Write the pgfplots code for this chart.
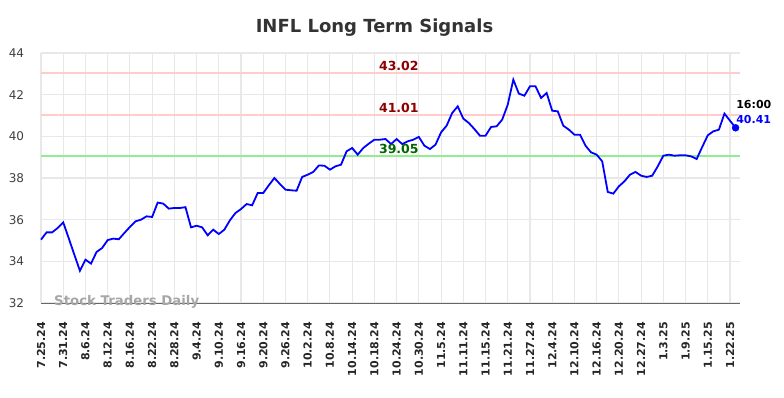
\documentclass[border=0pt]{standalone}
\usepackage{fontspec}
\setmainfont{DejaVu Sans}
\usepackage{pgfplots}
\pgfplotsset{compat=1.18}
\definecolor{lvlred}{HTML}{FFCCCC}
\definecolor{lvlgreen}{HTML}{90EE90}
\definecolor{lblred}{HTML}{8B0000}
\definecolor{lblgreen}{HTML}{006400}
\definecolor{gridc}{HTML}{E8E8E8}
\definecolor{titlec}{HTML}{333333}
\begin{document}
\begin{tikzpicture}
\path[use as bounding box] (0,0) rectangle (784pt,398pt);
\begin{axis}[
  at={(41pt,95pt)}, anchor=south west,
  scale only axis, width=699pt, height=250pt,
  xmin=0, xmax=125.8, ymin=32, ymax=44,
  clip=false,
  axis x line*=bottom, axis y line*=left,
  x axis line style={-, draw=black!60, line width=0.8pt},
  y axis line style={draw=none},
  major tick length=0pt,
  grid=major, major grid style={gridc, line width=1.1pt},
  xtick={0,4,...,124},
  xticklabels={7.25.24,7.31.24,8.6.24,8.12.24,8.16.24,8.22.24,8.28.24,9.4.24,9.10.24,9.16.24,9.20.24,9.26.24,10.2.24,10.8.24,10.14.24,10.18.24,10.24.24,10.30.24,11.5.24,11.11.24,11.15.24,11.21.24,11.27.24,12.4.24,12.10.24,12.16.24,12.20.24,12.27.24,1.3.25,1.9.25,1.15.25,1.22.25},
  ytick={32,34,...,44},
  /pgf/number format/assume math mode=true,
  tick label style={inner sep=0pt},
  xticklabel style={rotate=90, anchor=east, font=\fontsize{11}{13}\selectfont\bfseries, text=black!85},
  yticklabel style={anchor=east, font=\fontsize{12}{14}\selectfont, text=black!75},
  xticklabel shift=18.7pt,
  yticklabel shift=16.7pt,
]
\addplot[lvlred, line width=2pt, forget plot] coordinates {(0,43.02) (125.8,43.02)};
\addplot[lvlred, line width=2pt, forget plot] coordinates {(0,41.01) (125.8,41.01)};
\addplot[lvlgreen, line width=2pt, forget plot] coordinates {(0,39.05) (125.8,39.05)};
\addplot[blue, line width=1.8pt, mark=none] table {
x y
0 35.04
1 35.39
2 35.39
3 35.60
4 35.87
5 35.10
6 34.32
7 33.55
8 34.08
9 33.89
10 34.45
11 34.64
12 35.02
13 35.09
14 35.06
15 35.36
16 35.65
17 35.92
18 36.00
19 36.16
20 36.13
21 36.82
22 36.77
23 36.53
24 36.56
25 36.56
26 36.60
27 35.63
28 35.71
29 35.63
30 35.25
31 35.52
32 35.31
33 35.52
34 35.97
35 36.32
36 36.51
37 36.75
38 36.69
39 37.28
40 37.28
41 37.65
42 38.00
43 37.71
44 37.44
45 37.41
46 37.39
47 38.05
48 38.16
49 38.29
50 38.60
51 38.59
52 38.40
53 38.56
54 38.64
55 39.28
56 39.44
57 39.12
58 39.44
59 39.65
60 39.84
61 39.84
62 39.87
63 39.63
64 39.87
65 39.63
66 39.76
67 39.84
68 39.97
69 39.55
70 39.39
71 39.60
72 40.19
73 40.51
74 41.12
75 41.44
76 40.85
77 40.64
78 40.35
79 40.03
80 40.03
81 40.45
82 40.48
83 40.80
84 41.52
85 42.72
86 42.05
87 41.95
88 42.40
89 42.40
90 41.84
91 42.08
92 41.23
93 41.20
94 40.51
95 40.32
96 40.08
97 40.08
98 39.55
99 39.23
100 39.12
101 38.80
102 37.33
103 37.25
104 37.60
105 37.84
106 38.16
107 38.29
108 38.11
109 38.05
110 38.11
111 38.56
112 39.07
113 39.12
114 39.07
115 39.09
116 39.09
117 39.04
118 38.91
119 39.49
120 40.05
121 40.24
122 40.32
123 41.09
124 40.75
125 40.41
};
\addplot[blue, only marks, mark=*, mark size=3.5pt] coordinates {(125,40.41)};
\node[anchor=base, text=lblred, font=\fontsize{12.5}{14}\selectfont\bfseries, yshift=3pt] at (axis cs:64.4,43.02) {43.02};
\node[anchor=base, text=lblred, font=\fontsize{12.5}{14}\selectfont\bfseries, yshift=3pt] at (axis cs:64.4,41.01) {41.01};
\node[anchor=base, text=lblgreen, font=\fontsize{12.5}{14}\selectfont\bfseries, yshift=3pt] at (axis cs:64.4,39.05) {39.05};
\node[anchor=base west, inner sep=0pt, font=\fontsize{11}{13}\selectfont\bfseries, text=black] at (axis cs:125.1,41.35) {16:00};
\node[anchor=base west, inner sep=0pt, font=\fontsize{11}{13}\selectfont\bfseries, text=blue] at (axis cs:125.1,40.63) {40.41};
\end{axis}
\node[anchor=base, inner sep=0pt, font=\fontsize{18}{22}\selectfont\bfseries, text=titlec] at (374.5pt,365.7pt) {INFL Long Term Signals};
\node[anchor=base west, inner sep=0pt, font=\fontsize{13.3}{16}\selectfont\bfseries, text=black!35] at (54pt,92pt) {Stock Traders Daily};
\end{tikzpicture}
\end{document}
